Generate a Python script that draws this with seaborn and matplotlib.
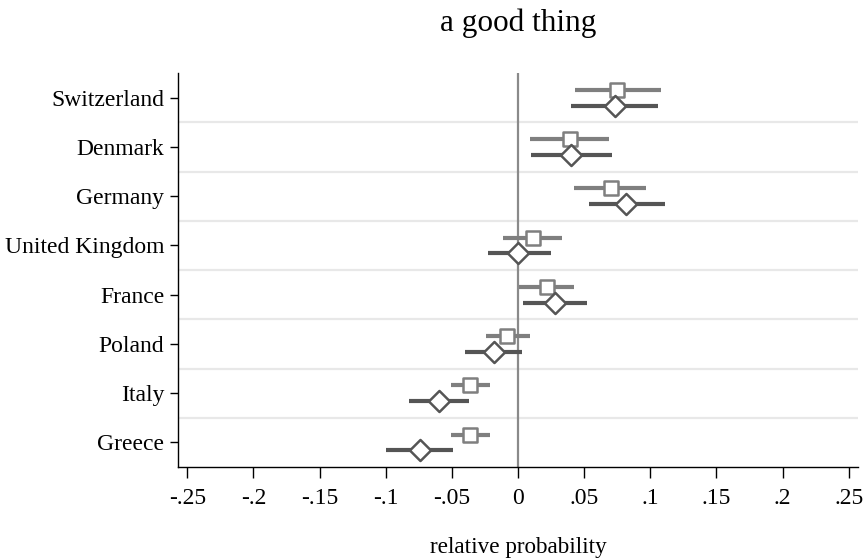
import numpy as np
import pandas as pd
import matplotlib
matplotlib.use("Agg")
import matplotlib.pyplot as plt
import seaborn as sns

countries = ["Switzerland", "Denmark", "Germany", "United Kingdom",
             "France", "Poland", "Italy", "Greece"]

# first model (squares)
est_a = [0.075, 0.039, 0.070, 0.011, 0.022, -0.008, -0.036, -0.036]
lo_a = [0.043, 0.009, 0.042, -0.011, 0.001, -0.024, -0.051, -0.051]
hi_a = [0.108, 0.069, 0.097, 0.033, 0.042, 0.009, -0.021, -0.021]

# second model (diamonds)
est_b = [0.073, 0.040, 0.082, 0.000, 0.028, -0.018, -0.060, -0.074]
lo_b = [0.040, 0.010, 0.054, -0.023, 0.004, -0.040, -0.082, -0.100]
hi_b = [0.106, 0.071, 0.111, 0.025, 0.052, 0.003, -0.037, -0.049]

xticks = [-0.25, -0.2, -0.15, -0.1, -0.05, 0, 0.05, 0.1, 0.15, 0.2, 0.25]
xticklabels = ["-.25", "-.2", "-.15", "-.1", "-.05", "0", ".05", ".1", ".15", ".2", ".25"]

sns.set_theme(style="white")
plt.rcParams["font.family"] = ["Liberation Serif", "DejaVu Serif"]
plt.rcParams["text.color"] = "black"
plt.rcParams["xtick.color"] = "black"
plt.rcParams["ytick.color"] = "black"
plt.rcParams["axes.labelcolor"] = "black"

n = len(countries)
pos = np.arange(n)

df = pd.concat([
    pd.DataFrame({"country": countries, "pos": pos, "est": est_a, "lo": lo_a,
                  "hi": hi_a, "model": "A"}),
    pd.DataFrame({"country": countries, "pos": pos, "est": est_b, "lo": lo_b,
                  "hi": hi_b, "model": "B"}),
], ignore_index=True)
offset = {"A": -0.16, "B": 0.16}
df["y"] = df["pos"] + df["model"].map(offset)

line_col = {"A": "#7f7f7f", "B": "#555555"}

fig = plt.figure(figsize=(8.65, 5.58), dpi=100)
ax = fig.add_axes([0.2058, 0.163, 0.786, 0.706])

# separators between countries
for k in range(n - 1):
    ax.axhline(k + 0.5, color="#e8e8e8", lw=1.6, zorder=0)

ax.axvline(0, color="#8a8a8a", lw=1.6, zorder=1)

for m, sub in df.groupby("model"):
    ax.hlines(sub["y"], sub["lo"], sub["hi"], color=line_col[m], lw=3.0, zorder=2)

sns.scatterplot(data=df[df.model == "A"], x="est", y="y", marker="s", s=115,
                color="white", edgecolor=line_col["A"], linewidth=1.8,
                zorder=3, ax=ax, legend=False)
sns.scatterplot(data=df[df.model == "B"], x="est", y="y", marker="D", s=115,
                color="white", edgecolor=line_col["B"], linewidth=1.8,
                zorder=3, ax=ax, legend=False)

ax.set_xlim(-0.257, 0.257)
ax.set_ylim(n - 0.5, -0.5)
ax.set_yticks(pos)
ax.set_yticklabels(countries, fontsize=17)
ax.set_xticks(xticks)
ax.set_xticklabels(xticklabels, fontsize=17)
ax.set_xlabel("relative probability", fontsize=16.7, labelpad=20)
ax.set_ylabel("")
ax.set_title("a good thing", fontsize=22.5, pad=30)

for side in ["top", "right"]:
    ax.spines[side].set_visible(False)
for side in ["left", "bottom"]:
    ax.spines[side].set_color("black")
    ax.spines[side].set_linewidth(1.0)
ax.tick_params(axis="y", which="major", left=True, length=6, width=1, color="black", pad=4)
ax.tick_params(axis="x", which="major", bottom=True, length=8, width=1, color="black", pad=7)

fig.savefig("out.png", dpi=100, facecolor="white")
